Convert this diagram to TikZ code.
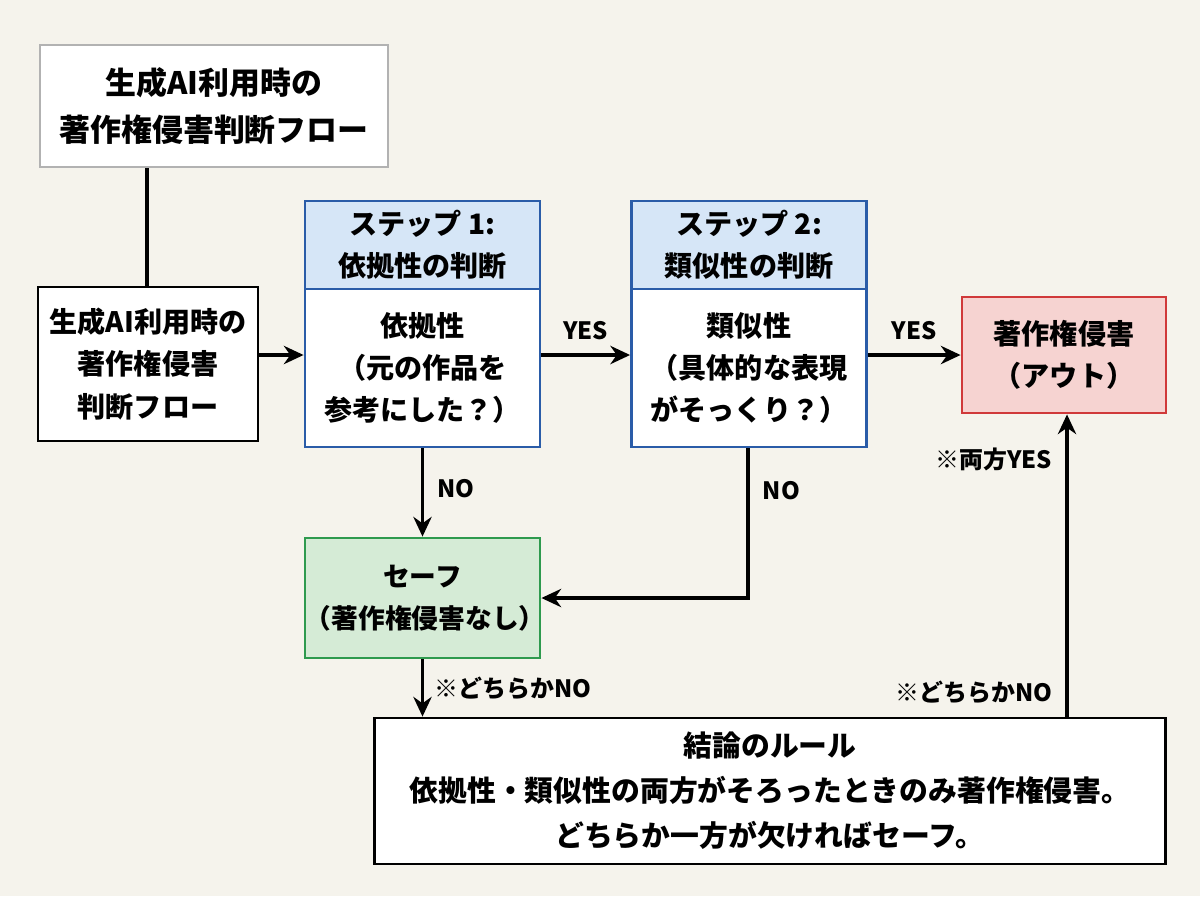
\documentclass[tikz,border=0pt]{standalone}
\usepackage{fontspec}
\setmainfont{Noto Sans CJK JP}
\usetikzlibrary{arrows.meta}
\definecolor{bg}{HTML}{F5F3EC}
\definecolor{bblue}{HTML}{2A5CA8}
\definecolor{lblue}{HTML}{D6E6F7}
\definecolor{bred}{HTML}{D0393A}
\definecolor{lred}{HTML}{F6D3D1}
\definecolor{bgreen}{HTML}{2E9A4E}
\definecolor{lgreen}{HTML}{D5EBD6}
\begin{document}
\begin{tikzpicture}[x=0.025cm,y=-0.025cm,
 box/.style={draw,line width=2pt,fill=white,align=center,inner sep=0pt,font=\fontsize{20}{30}\selectfont\bfseries},
 arr/.style={line width=2.4pt,-{Stealth[length=14pt,width=13pt]}},
 lab/.style={font=\fontsize{17}{20}\selectfont\bfseries}]
\fill[bg] (0,0) rectangle (1200,896);
\useasboundingbox (0,0) rectangle (1200,896);
\node[box,draw=gray!60,minimum width=8.7cm,minimum height=3.05cm,font=\fontsize{22}{33}\selectfont\bfseries] (title) at (214,106) {生成AI利用時の\\著作権侵害判断フロー};
\node[box,minimum width=5.5cm,minimum height=3.85cm] (left) at (148,364) {生成AI利用時の\\著作権侵害\\判断フロー};
\node[box,draw=bblue,fill=lblue,minimum width=5.875cm,minimum height=2.2cm] (s1h) at (422.5,245) {ステップ 1:\\依拠性の判断};
\node[box,draw=bblue,minimum width=5.875cm,minimum height=3.95cm] (s1b) at (422.5,368) {依拠性\\（元の作品を\\参考にした？）};
\node[box,draw=bblue,fill=lblue,minimum width=5.875cm,minimum height=2.2cm] (s2h) at (749,245) {ステップ 2:\\類似性の判断};
\node[box,draw=bblue,minimum width=5.875cm,minimum height=3.95cm] (s2b) at (749,368) {類似性\\（具体的な表現\\がそっくり？）};
\node[box,draw=bred,fill=lred,minimum width=5.1cm,minimum height=2.9cm] (out) at (1064,355) {著作権侵害\\（アウト）};
\node[box,draw=bgreen,fill=lgreen,text width=5.875cm,minimum height=3.0cm,font=\fontsize{19}{30}\selectfont\bfseries] (safe) at (422.5,598) {セーフ\\（著作権侵害なし）};
\node[box,minimum width=19.75cm,minimum height=3.65cm,font=\fontsize{20.5}{32}\selectfont\bfseries] (concl) at (770,791) {結論のルール\\依拠性・類似性の両方がそろったときのみ著作権侵害。\\どちらか一方が欠ければセーフ。};
\coordinate (yl) at (0,355);
\coordinate (c1) at (147,0);
\draw[line width=2.4pt] (title.south -| c1) -- (left.north -| c1);
\draw[arr] (left.east |- yl) -- (s1b.west |- yl);
\draw[arr] (s1b.east |- yl) -- node[lab,above=6pt]{YES} (s2b.west |- yl);
\draw[arr] (s2b.east |- yl) -- node[lab,above=6pt]{YES} (out.west |- yl);
\draw[arr] (s1b.south) -- node[lab,right=6pt,pos=0.45]{NO} (safe.north);
\coordinate (c2) at (748,598);
\draw[arr] (s2b.south -| c2) -- node[lab,right=6pt,pos=0.28]{NO} (c2) -- (safe.east);
\draw[arr] (safe.south) -- node[lab,right=4pt]{※どちらかNO} (safe.south |- concl.north);
\coordinate (c3) at (1067,0);
\draw[arr] (concl.north -| c3) -- node[lab,left=6pt,pos=0.08]{※どちらかNO} node[lab,left=6pt,pos=0.85]{※両方YES} (out.south -| c3);
\end{tikzpicture}
\end{document}
